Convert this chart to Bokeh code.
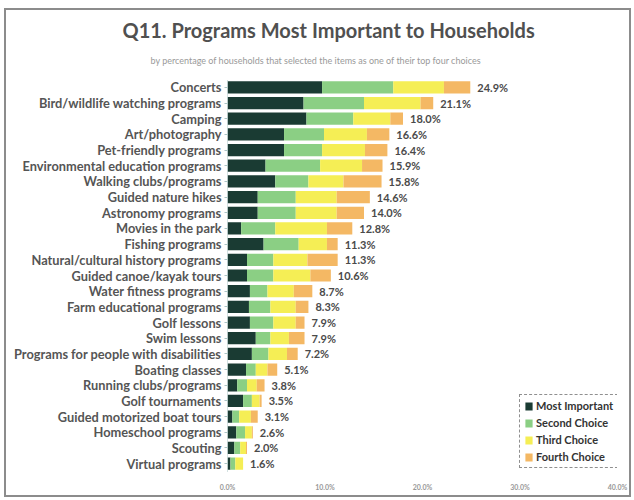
from bokeh.plotting import figure
from bokeh.models import (ColumnDataSource, FactorRange, Range1d, FixedTicker,
                          PrintfTickFormatter, Title, Legend, LegendItem, InlineStyleSheet)
from bokeh.core.properties import value
from bokeh.embed import file_html
from bokeh.resources import INLINE

categories = [
    "Concerts", "Bird/wildlife watching programs", "Camping", "Art/photography",
    "Pet-friendly programs", "Environmental education programs",
    "Walking clubs/programs", "Guided nature hikes", "Astronomy programs",
    "Movies in the park", "Fishing programs", "Natural/cultural history programs",
    "Guided canoe/kayak tours", "Water fitness programs", "Farm educational programs",
    "Golf lessons", "Swim lessons", "Programs for people with disabilities",
    "Boating classes", "Running clubs/programs", "Golf tournaments",
    "Guided motorized boat tours", "Homeschool programs", "Scouting", "Virtual programs",
]
most_important = [9.7, 7.8, 8.1, 5.8, 5.8, 3.9, 4.9, 3.1, 3.1, 1.4, 3.7, 2.0, 2.0,
                  2.3, 2.2, 2.3, 2.9, 2.5, 1.9, 1.0, 1.6, 0.5, 0.9, 0.7, 0.3]
second_choice = [7.3, 6.2, 4.8, 4.1, 3.9, 5.6, 3.4, 3.9, 3.9, 3.5, 3.6, 2.7, 2.7,
                 1.8, 2.2, 2.4, 1.5, 1.7, 1.0, 1.0, 0.9, 0.7, 0.9, 0.6, 0.5]
third_choice = [5.2, 5.8, 3.8, 4.4, 4.4, 4.3, 3.6, 4.2, 4.2, 5.3, 2.9, 3.5, 3.8,
                2.7, 2.6, 2.3, 1.9, 1.9, 1.2, 1.0, 0.8, 1.2, 0.7, 0.6, 0.8]
fourth_choice = [2.7, 1.3, 1.3, 2.3, 2.3, 2.1, 3.9, 3.4, 2.8, 2.6, 1.1, 3.1, 2.1,
                 1.9, 1.3, 0.9, 1.6, 1.1, 1.0, 0.8, 0.2, 0.7, 0.1, 0.1, 0.0]
totals = [24.9, 21.1, 18.0, 16.6, 16.4, 15.9, 15.8, 14.6, 14.0, 12.8, 11.3, 11.3, 10.6,
          8.7, 8.3, 7.9, 7.9, 7.2, 5.1, 3.8, 3.5, 3.1, 2.6, 2.0, 1.6]
series_names = ["Most Important", "Second Choice", "Third Choice", "Fourth Choice"]
x_ticks = [0, 10, 20, 30, 40]

colors = ["#1a3b33", "#8bcf84", "#f5ee55", "#f4b864"]
FONT = "Lato"

source = ColumnDataSource(dict(
    cat=categories, s1=most_important, s2=second_choice, s3=third_choice,
    s4=fourth_choice, total=totals, label=["%.1f%%" % t for t in totals],
))

frame_css = InlineStyleSheet(css="""
:host { position: relative; }
:host::after {
  content: ""; position: absolute; left: 4px; top: 8px; right: 3px; bottom: 3px;
  border: 2px solid #8c8c8c; pointer-events: none; box-sizing: border-box;
}
""")

p = figure(width=634, height=500, output_backend="svg", toolbar_location=None,
           y_range=FactorRange(*categories[::-1], range_padding=0, factor_padding=0),
           x_range=Range1d(0, 40),
           min_border_left=227, min_border_right=17, min_border_top=79,
           min_border_bottom=29, stylesheets=[frame_css])

renderers = p.hbar_stack(["s1", "s2", "s3", "s4"], y="cat", height=0.78,
                         color=colors, source=source, line_color=None)

p.text(x="total", y="cat", text="label", source=source, x_offset=7,
       text_baseline="middle", text_align="left", text_font=value(FONT),
       text_font_style="bold", text_font_size="11px", text_color="#4a4a4a")

sub = Title(text="by percentage of households that selected the items as one of their top four choices",
            align="left", offset=-77, text_font=FONT, text_font_size="9px",
            text_font_style="normal", text_color="#9a9a9a", standoff=28)
main = Title(text="Q11. Programs Most Important to Households", align="left", offset=-105,
             text_font=FONT, text_font_size="20px", text_font_style="bold",
             text_color="#505050", standoff=-6)
p.add_layout(sub, "above")
p.add_layout(main, "above")

legend = Legend(items=[LegendItem(label=n, renderers=[r]) for n, r in zip(series_names, renderers)],
                location=(292, 3))
legend.label_text_font = FONT
legend.label_text_font_style = "bold"
legend.label_text_font_size = "11px"
legend.label_text_color = "#333333"
legend.border_line_color = "#222222"
legend.border_line_dash = "3 1"
legend.border_line_width = 1.5
legend.glyph_width = 9
legend.glyph_height = 10
legend.label_height = 13
legend.label_standoff = 3
legend.spacing = 4
legend.padding = 4
legend.margin = 0
legend.background_fill_alpha = 1
p.add_layout(legend, "center")

p.xaxis.ticker = FixedTicker(ticks=x_ticks)
p.xaxis.formatter = PrintfTickFormatter(format="%.1f%%")
p.xaxis.axis_line_color = None
p.xaxis.major_tick_line_color = None
p.xaxis.minor_tick_line_color = None
p.xaxis.major_label_text_font = FONT
p.xaxis.major_label_text_font_size = "7px"
p.xaxis.major_label_text_font_style = "bold"
p.xaxis.major_label_text_color = "#999999"
p.xaxis.major_label_standoff = 5

p.yaxis.axis_line_color = "#a9c4c4"
p.yaxis.axis_line_dash = "1 1"
p.yaxis.major_tick_line_color = "#a9c4c4"
p.yaxis.major_tick_out = 3
p.yaxis.major_tick_in = 0
p.yaxis.minor_tick_line_color = None
p.yaxis.major_label_text_font = FONT
p.yaxis.major_label_text_font_size = "12.8px"
p.yaxis.major_label_text_font_style = "bold"
p.yaxis.major_label_text_color = "#555555"
p.yaxis.major_label_standoff = 3

p.xgrid.grid_line_color = None
p.ygrid.grid_line_color = None
p.outline_line_color = None

open("out.html", "w").write(file_html(p, INLINE))
